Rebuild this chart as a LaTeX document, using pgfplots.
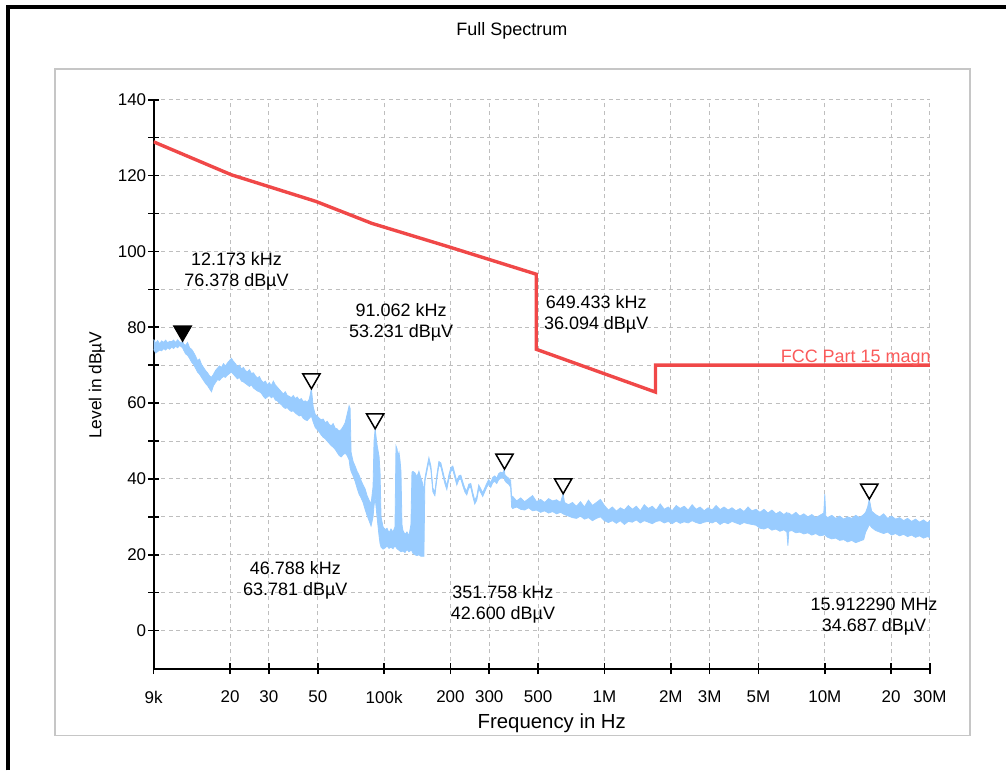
\documentclass[border=0pt]{standalone}
\usepackage{fontspec}
\setmainfont{Liberation Sans}
\usepackage{pgfplots}
\pgfplotsset{compat=1.18}
\usepackage{pgfplotstable}
\usepgfplotslibrary{fillbetween}
\definecolor{limitred}{RGB}{240,72,72}
\definecolor{labelred}{RGB}{250,90,90}
\definecolor{specblue}{RGB}{153,204,255}
\definecolor{gridgray}{RGB}{190,190,190}

\pgfplotstableread{
f U L
9000 76.8 74.2
9190 75.8 73.2
9383 76.5 73.6
9581 75.6 74.0
9783 76.4 73.8
9988 76.0 74.4
10199 76.6 74.0
10413 75.9 74.6
10633 76.3 74.2
10857 76.2 74.8
11085 76.6 74.4
11319 76.0 75.0
11557 76.7 74.6
11801 76.1 75.2
12049 75.8 74.8
12173 76.4 74.6
12302 75.6 74.0
12562 75.2 73.0
12826 76.0 72.6
13096 74.6 71.8
13373 74.2 70.8
13653 73.4 70.2
13941 72.4 69.2
14235 71.2 68.2
14535 71.6 67.6
14841 70.2 66.8
15153 69.4 66.0
15473 68.6 65.2
15799 68.0 64.6
16132 67.2 63.8
16471 66.8 63.0
16817 67.6 64.6
17172 68.6 65.4
17533 69.2 66.2
17904 69.8 66.0
18281 69.4 66.6
18664 70.4 67.0
19058 69.8 66.8
19459 70.6 67.4
19870 71.2 67.8
20288 71.8 68.2
20714 71.0 67.6
21151 70.4 67.0
21596 69.6 66.4
22052 70.0 66.8
22515 69.0 65.8
22989 69.4 65.6
23474 68.6 65.2
23968 68.2 64.8
24474 68.8 64.4
24988 67.8 64.8
25514 68.0 64.0
26052 67.2 63.6
26601 66.6 63.2
27162 67.0 63.0
27733 66.0 62.6
28316 65.4 61.8
28913 65.8 61.2
29522 64.8 61.6
30145 65.4 62.0
30779 64.6 61.4
31425 65.8 61.8
32088 64.8 60.8
32764 64.2 60.6
33455 63.6 60.0
34158 63.0 59.6
34876 62.4 59.0
35612 63.0 58.6
36362 62.0 58.8
37129 61.8 58.2
37910 61.4 57.8
38706 62.0 58.0
39523 61.2 57.4
40355 61.6 57.0
41206 60.8 56.6
42072 61.2 56.8
42957 60.4 56.0
43864 60.6 55.6
44787 60.2 55.4
45731 61.0 56.0
46788 63.8 56.6
47675 59.0 55.0
48681 57.0 53.6
49705 56.6 53.0
50753 56.0 52.4
51820 55.6 51.6
52910 55.8 51.0
54027 54.8 50.6
55164 55.2 50.0
56329 54.4 49.4
57513 54.0 48.8
58721 54.6 48.4
59960 53.4 47.8
61222 53.2 47.0
62513 52.6 46.2
63826 53.0 45.8
65170 53.8 46.4
66545 54.8 46.8
67946 57.0 46.2
69380 59.3 45.0
70100 58.6 43.0
70837 47.0 42.0
72327 44.6 40.8
73853 43.4 39.4
75407 42.0 37.6
76999 41.0 36.0
78617 39.6 35.0
80270 38.4 33.8
81964 37.4 32.0
83689 35.6 30.4
85455 34.4 29.0
87251 33.4 27.6
89085 38.0 30.0
90000 50.0 33.0
91062 53.2 35.0
92883 49.0 30.0
94846 46.0 25.0
95843 42.0 23.0
96840 30.0 22.0
98868 27.4 21.5
100954 26.6 21.8
103079 27.0 22.3
105255 25.8 21.7
107468 26.8 22.0
109726 26.0 21.6
112042 27.4 22.4
113210 48.7 22.0
114400 48.0 21.6
115600 46.0 21.4
116815 47.0 21.2
118042 45.0 21.0
119272 42.0 20.8
120500 28.0 20.9
121776 26.4 21.0
124346 25.4 20.6
126963 26.0 21.4
129642 25.0 20.8
132369 28.0 21.2
133759 41.8 21.0
135149 42.0 20.4
138001 41.6 20.0
140906 40.6 19.8
143880 42.0 20.0
146907 40.2 19.6
149991 38.6 19.6
151566 36.0 19.6
153156 40.2 39.4
156380 43.0 42.0
159680 45.6 44.6
163039 43.4 42.4
166463 37.6 36.6
169976 36.6 35.6
173554 41.0 40.0
177217 44.6 43.6
180945 44.2 43.2
184743 42.0 41.0
188641 39.8 38.8
192612 38.2 37.2
196677 41.0 40.0
200814 43.0 42.0
205031 43.4 42.4
209357 41.4 40.4
213764 39.4 38.4
218276 40.8 39.8
222868 41.0 40.0
227547 39.2 38.2
232349 37.6 36.6
237240 36.8 35.8
242247 38.6 37.6
247343 38.8 37.8
252536 36.4 35.4
257864 34.4 33.4
263292 35.4 34.4
268849 38.4 37.4
274504 37.4 36.4
280269 36.4 35.4
286183 37.6 36.6
292207 38.8 37.8
298374 39.8 38.6
304650 39.0 37.8
311048 40.4 39.0
317611 40.8 39.4
324297 40.2 38.8
331141 41.4 39.8
338106 41.8 40.2
345207 41.6 40.2
351758 42.6 40.6
352491 41.2 39.6
359911 40.6 39.0
367507 40.2 38.6
375236 39.6 37.8
379134 35.0 32.6
383117 35.4 32.2
399438 34.2 32.6
416404 35.0 32.0
434163 34.0 31.8
452668 34.8 32.4
471885 35.6 31.6
491987 34.0 31.8
512939 34.6 31.2
534757 33.8 31.6
557539 34.8 31.0
581219 34.2 31.4
605979 34.5 30.8
631785 33.8 31.2
649433 36.1 30.8
658658 33.8 30.6
686718 33.2 30.2
715885 33.8 29.8
746382 32.8 29.6
778167 34.0 30.2
811267 32.6 29.4
845828 34.4 29.8
881753 33.0 29.0
919316 33.8 29.6
958466 34.6 30.0
999232 33.0 29.0
1041800 31.8 28.5
1086050 32.6 29.0
1132316 31.5 28.3
1180536 32.4 29.0
1230752 31.8 28.0
1283184 33.0 28.8
1337680 32.0 28.6
1394665 32.8 29.2
1454058 31.6 28.4
1515905 33.2 29.0
1580484 32.2 28.6
1647610 32.8 28.2
1717798 31.8 28.8
1790952 33.4 29.0
1867133 32.0 28.4
1946674 32.6 28.8
2029360 31.6 28.2
2115811 33.0 28.9
2205914 32.2 28.3
2299742 32.8 28.7
2397713 31.8 28.4
2499550 33.2 29.0
2606031 32.0 28.5
2717011 32.6 28.2
2832583 31.6 28.6
2953254 32.4 28.8
3078690 31.8 28.4
3209842 33.0 28.9
3346536 31.9 28.0
3488874 32.6 28.6
3637504 31.8 28.2
3792000 32.4 28.8
3953539 31.6 28.4
4121904 32.2 28.0
4297228 31.4 28.5
4480294 32.6 28.2
4670600 31.6 28.0
4869568 32.0 27.8
5076942 31.2 27.0
5292893 32.0 26.8
5518375 31.0 27.2
5752750 31.8 26.5
5997817 30.8 26.8
6253239 31.4 26.2
6519213 30.6 26.6
6726071 31.2 26.0
6796939 30.5 22.4
6867707 31.0 26.2
7085630 30.4 26.4
7387478 31.2 25.8
7702080 30.2 26.0
8029695 30.8 25.5
8371770 30.0 25.8
8727340 30.6 25.2
9099125 29.8 25.6
9486619 30.4 25.0
9890150 31.0 25.2
9993788 36.0 25.4
10098393 30.2 25.0
10311481 29.8 24.6
10749400 30.4 24.2
11207324 29.6 24.4
11684598 30.2 23.8
12181621 29.4 24.0
12700572 30.0 23.4
13240000 29.6 23.8
13804024 30.4 23.2
14391880 29.8 23.6
15004043 30.6 24.0
15319964 31.2 26.0
15643232 32.6 27.0
15912290 34.7 28.0
16307700 31.5 27.2
17002408 30.6 26.4
17726470 30.0 26.0
18480480 30.8 25.6
19267770 29.6 26.0
20086200 30.2 25.2
20941872 29.4 25.6
21833699 29.8 25.0
22762361 29.0 25.4
23732063 29.6 24.8
24740100 28.8 25.2
25794028 29.4 24.6
26892489 28.6 25.0
28036343 29.2 24.4
29230722 28.4 24.8
30000000 29.0 24.5
}\spec

\begin{document}
\begin{tikzpicture}
\path (0,0) rectangle (504pt,386pt);
\draw[black, line width=2.2pt] (4pt,0) -- (4pt,382.5pt) -- (504pt,382.5pt);
\draw[gray!45, line width=0.8pt] (27.5pt,17.5pt) rectangle (486pt,351.5pt);
\node[font=\fontsize{9}{11}\selectfont] at (256.5pt,370.5pt) {Full Spectrum};
\begin{axis}[
  at={(77pt,51pt)}, anchor=south west, scale only axis,
  width=389pt, height=285pt,
  xmode=log, xmin=9000, xmax=3e7, ymin=-10, ymax=140,
  axis x line*=bottom, axis y line*=left,
  axis line style={line width=1pt, black, -},
  xtick={9000,20000,30000,50000,100000,200000,300000,500000,1000000,2000000,3000000,5000000,10000000,20000000,30000000},
  xticklabels={9k,20,30,50,100k,200,300,500,1M,2M,3M,5M,10M,20,30M},
  ytick={0,10,...,140},
  yticklabels={0,,20,,40,,60,,80,,100,,120,,140},
  tick align=center, major tick length=5.5pt,
  tick style={line width=0.8pt, black},
  grid=major,
  major grid style={gridgray, dash pattern=on 2pt off 1.8pt, line width=0.5pt},
  ticklabel style={font=\fontsize{8.5}{10}\selectfont},
  xticklabel style={yshift=-5pt},
  yticklabel style={xshift=2.5pt},
]
\addplot[name path=up, specblue, line width=0.4pt] table[x=f,y=U]{\spec};
\addplot[name path=lo, specblue, line width=0.4pt] table[x=f,y=L]{\spec};
\addplot[specblue, draw=none] fill between[of=up and lo];
\addplot[limitred, line width=1.7pt] coordinates {
 (9000,128.9) (20300,120.2) (49000,113.2) (88000,107.4) (197000,101.2) (490000,94.0)
 (490000,74.2) (1705000,62.9) (1705000,70.0) (30000000,70.0)};
\addplot[only marks, mark=triangle*, mark size=5pt,
  mark options={yshift=5pt, rotate=180, fill=black, draw=black, line width=0.75pt}]
  coordinates {(12173,76.378)};
\addplot[only marks, mark=triangle*, mark size=5pt,
  mark options={yshift=5pt, rotate=180, fill=white, draw=black, line width=0.75pt}]
  coordinates {(46788,63.781) (91062,53.231) (351758,42.600) (649433,36.094) (15912290,34.687)};
\end{axis}
\node[anchor=base east, text=labelred, font=\fontsize{9}{10}\selectfont, inner sep=0pt] at (466.5pt,204.5pt) {FCC Part 15 magn};
\node[font=\fontsize{10.2}{12}\selectfont] at (276.5pt,23.5pt) {Frequency in Hz};
\node[font=\fontsize{8.7}{10}\selectfont, rotate=90] at (48.5pt,193pt) {Level in dBµV};
\begin{scope}[every node/.style={font=\fontsize{9}{10.5}\selectfont, align=center, inner sep=0pt}]
\node at (118.5pt,250.25pt) {12.173 kHz\\76.378 dBµV};
\node at (201pt,224.25pt) {91.062 kHz\\53.231 dBµV};
\node at (298.75pt,228.5pt) {649.433 kHz\\36.094 dBµV};
\node at (148pt,95pt) {46.788 kHz\\63.781 dBµV};
\node at (252pt,83pt) {351.758 kHz\\42.600 dBµV};
\node at (438pt,77pt) {15.912290 MHz\\34.687 dBµV};
\end{scope}
\end{tikzpicture}
\end{document}
